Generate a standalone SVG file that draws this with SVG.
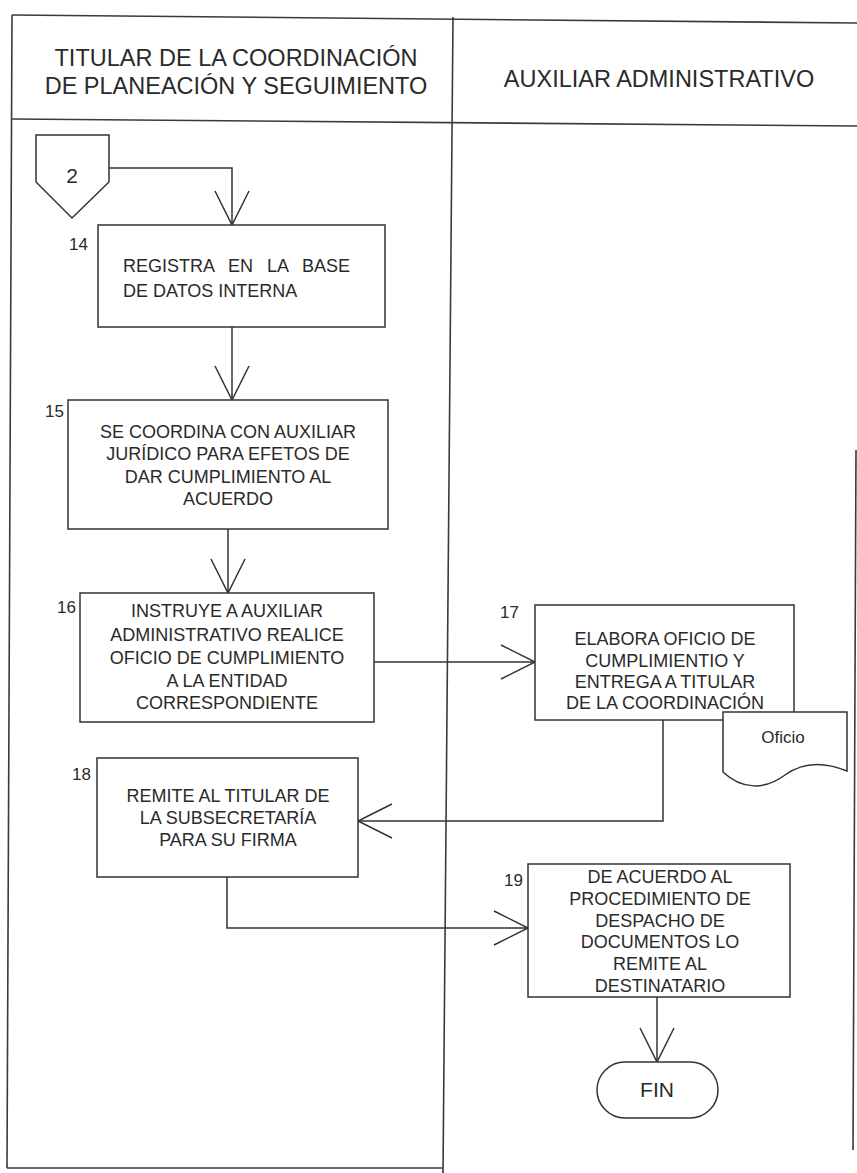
<svg xmlns="http://www.w3.org/2000/svg" width="857" height="1173" viewBox="0 0 857 1173">
  <style>
    .frame { fill: none; stroke: #3a3a3a; stroke-width: 1.6; }
    .box { fill: #ffffff; stroke: #333333; stroke-width: 1.5; }
    .conn { fill: none; stroke: #333333; stroke-width: 1.5; }
    .hdr { font-family: "Liberation Sans", Arial, sans-serif; font-size: 23.5px; fill: #2a2a2a; text-anchor: middle; }
    .txt { font-family: "Liberation Sans", Arial, sans-serif; font-size: 18px; fill: #2a2a2a; text-anchor: middle; }
    .num { font-family: "Liberation Sans", Arial, sans-serif; font-size: 17px; fill: #2a2a2a; }
  </style>
  <defs>
    <marker id="openArrow" viewBox="-2 -2 38 38" refX="34" refY="17" markerWidth="38" markerHeight="38" markerUnits="userSpaceOnUse" orient="auto" overflow="visible">
      <path d="M0,0 L34,17 L0,34" fill="none" stroke="#333333" stroke-width="1.5"/>
    </marker>
  </defs>

  <rect width="857" height="1173" fill="#ffffff"/>

  <!-- swimlane frame -->
  <g id="lanes">
    <line class="frame" x1="12" y1="15" x2="857" y2="23"/>
    <line class="frame" x1="12" y1="119" x2="857" y2="126"/>
    <line class="frame" x1="12" y1="15" x2="7" y2="1168"/>
    <line class="frame" x1="7" y1="1168" x2="443" y2="1168"/>
    <line class="frame" x1="453" y1="17" x2="443" y2="1173"/>
    <line class="frame" x1="856" y1="450" x2="853" y2="1150"/>
    <text class="hdr" x="236" y="66">TITULAR DE LA COORDINACIÓN</text>
    <text class="hdr" x="236" y="94">DE PLANEACIÓN Y SEGUIMIENTO</text>
    <text class="hdr" x="659" y="87">AUXILIAR ADMINISTRATIVO</text>
  </g>

  <!-- connectors -->
  <g id="connectors">
    <path class="conn" d="M109,168 H232 V225" marker-end="url(#openArrow)"/>
    <path class="conn" d="M232,327 V400" marker-end="url(#openArrow)"/>
    <path class="conn" d="M228,529 V593" marker-end="url(#openArrow)"/>
    <path class="conn" d="M374,662 H535" marker-end="url(#openArrow)"/>
    <path class="conn" d="M663,720 V821 H358" marker-end="url(#openArrow)"/>
    <path class="conn" d="M227,877 V928 H528" marker-end="url(#openArrow)"/>
    <path class="conn" d="M657,997 V1062" marker-end="url(#openArrow)"/>
  </g>

  <!-- off-page connector 2 -->
  <g id="connector-2">
    <path class="box" d="M36,135 H109 V182 L72,218 L36,182 Z"/>
    <text class="txt" x="72" y="183" style="font-size:21px">2</text>
  </g>

  <g id="step-14">
    <rect class="box" x="98" y="225" width="287" height="102"/>
    <text class="num" x="69" y="250">14</text>
    <text class="txt" x="123" y="272" style="text-anchor:start" word-spacing="9">REGISTRA EN LA BASE</text>
    <text class="txt" x="123" y="297" style="text-anchor:start">DE DATOS INTERNA</text>
  </g>

  <g id="step-15">
    <rect class="box" x="68" y="400" width="320" height="129"/>
    <text class="num" x="45" y="417">15</text>
    <text class="txt" x="228" y="438">SE COORDINA CON AUXILIAR</text>
    <text class="txt" x="228" y="460">JURÍDICO PARA EFETOS DE</text>
    <text class="txt" x="228" y="483">DAR CUMPLIMIENTO AL</text>
    <text class="txt" x="228" y="505">ACUERDO</text>
  </g>

  <g id="step-16">
    <rect class="box" x="80" y="593" width="294" height="129"/>
    <text class="num" x="57" y="613">16</text>
    <text class="txt" x="227" y="617">INSTRUYE A AUXILIAR</text>
    <text class="txt" x="227" y="641">ADMINISTRATIVO REALICE</text>
    <text class="txt" x="227" y="664">OFICIO DE CUMPLIMIENTO</text>
    <text class="txt" x="227" y="687">A LA ENTIDAD</text>
    <text class="txt" x="227" y="709">CORRESPONDIENTE</text>
  </g>

  <g id="step-17">
    <rect class="box" x="535" y="605" width="259" height="115"/>
    <text class="num" x="500" y="618">17</text>
    <text class="txt" x="665" y="645">ELABORA OFICIO DE</text>
    <text class="txt" x="665" y="667">CUMPLIMIENTIO Y</text>
    <text class="txt" x="665" y="688">ENTREGA A TITULAR</text>
    <text class="txt" x="665" y="709">DE LA COORDINACIÓN</text>
  </g>

  <g id="document-oficio">
    <path class="box" d="M723,712 H847 V771 C820,760 800,764 785,775 C765,790 742,790 723,772 Z"/>
    <text class="txt" x="783" y="743" style="font-size:17px">Oficio</text>
  </g>

  <g id="step-18">
    <rect class="box" x="97" y="758" width="261" height="119"/>
    <text class="num" x="72" y="780">18</text>
    <text class="txt" x="228" y="802">REMITE AL TITULAR DE</text>
    <text class="txt" x="228" y="824">LA SUBSECRETARÍA</text>
    <text class="txt" x="228" y="846">PARA SU FIRMA</text>
  </g>

  <g id="step-19">
    <rect class="box" x="528" y="864" width="262" height="133"/>
    <text class="num" x="504" y="886">19</text>
    <text class="txt" x="660" y="883">DE ACUERDO AL</text>
    <text class="txt" x="660" y="905">PROCEDIMIENTO DE</text>
    <text class="txt" x="660" y="927">DESPACHO DE</text>
    <text class="txt" x="660" y="948">DOCUMENTOS LO</text>
    <text class="txt" x="660" y="970">REMITE AL</text>
    <text class="txt" x="660" y="992">DESTINATARIO</text>
  </g>

  <g id="end-fin">
    <rect class="box" x="597" y="1062" width="121" height="56" rx="28" ry="28"/>
    <text class="txt" x="657" y="1097" style="font-size:21px">FIN</text>
  </g>
</svg>
